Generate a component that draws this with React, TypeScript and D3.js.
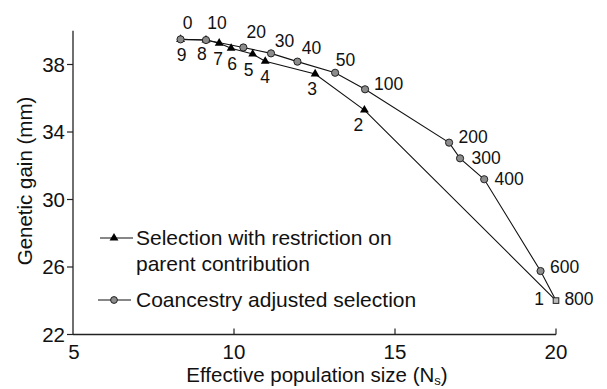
import React from 'react';
import * as d3 from 'd3';

// Coancestry adjusted selection (circles), labelled by penalty value
const coancestryLabels = ['0', '10', '20', '30', '40', '50', '100', '200', '300', '400', '600', '800'];
const coancestryNs = [8.34, 9.13, 10.29, 11.15, 11.97, 13.14, 14.07, 16.68, 17.02, 17.77, 19.52, 20.0];
const coancestryGain = [39.49, 39.45, 39.01, 38.66, 38.17, 37.51, 36.53, 33.37, 32.44, 31.2, 25.76, 24.01];

// Selection with restriction on parent contribution (triangles)
const restrictLabels = ['9', '8', '7', '6', '5', '4', '3', '2', '1'];
const restrictNs = [8.34, 9.13, 9.54, 9.91, 10.58, 10.97, 12.52, 14.05, 20.0];
const restrictGain = [39.49, 39.45, 39.26, 38.96, 38.62, 38.19, 37.44, 35.3, 24.01];

const xTicks = [5, 10, 15, 20];
const yTicks = [22, 26, 30, 34, 38];

// label placement offsets (pixels, from point to label centre)
const coancestryLabelOffsets: [number, number][] = [
  [7, -17], [11, -17], [13, -16], [13.5, -13], [14, -14], [10.5, -13],
  [23.5, -6], [24, -6], [26, -1], [25, -1], [24, -4], [23, -2],
];
const restrictLabelOffsets: [number, number][] = [
  [1, 15], [-4, 14], [-1, 15], [1, 15], [-4, 16], [0, 15], [-3, 15], [-6, 14.5], [-17, -2],
];

const W = 607;
const H = 389;
const FONT = 'Liberation Sans, Arial, Helvetica, sans-serif';

export default function App() {
  const x = d3.scaleLinear().domain([5, 20]).range([73, 556]);
  const y = d3.scaleLinear().domain([22, 40]).range([334.5, 30.75]);

  const cPts = coancestryNs.map((v, i) => [x(v), y(coancestryGain[i])] as [number, number]);
  const rPts = restrictNs.map((v, i) => [x(v), y(restrictGain[i])] as [number, number]);
  const line = d3.line();
  const tri = d3.symbol().type(d3.symbolTriangle).size(34)();

  const lastIdx = coancestryLabels.length - 1;

  return (
    <svg width={W} height={H} style={{ position: 'absolute', left: 0, top: 0, background: '#fff' }} fontFamily={FONT}>
      {/* axes */}
      <line x1={x(5)} x2={x(20)} y1={y(22)} y2={y(22)} stroke="#222" strokeWidth={1.3} />
      <line x1={x(5)} x2={x(5)} y1={y(22)} y2={y(40)} stroke="#222" strokeWidth={1.3} />
      {xTicks.map((t) => (
        <g key={'xt' + t}>
          {t !== 5 && <line x1={x(t)} x2={x(t)} y1={y(22)} y2={y(22) - 6} stroke="#222" strokeWidth={1.2} />}
          <text x={x(t) + (t === 5 ? 1 : 0)} y={359} textAnchor="middle" fontSize={20.5} fill="#111">{t}</text>
        </g>
      ))}
      {yTicks.map((t) => (
        <g key={'yt' + t}>
          <line x1={x(5) - 6} x2={x(5)} y1={y(t)} y2={y(t)} stroke="#222" strokeWidth={1.2} />
          <text x={65} y={y(t)} dy="0.36em" textAnchor="end" fontSize={20.5} fill="#111">{t}</text>
        </g>
      ))}
      <text x={317} y={382} textAnchor="middle" fontSize={20.5} fill="#111">
        Effective population size (N<tspan fontSize={13} dy={3}>s</tspan><tspan dy={-3}>)</tspan>
      </text>
      <text transform={`translate(32,181) rotate(-90)`} textAnchor="middle" fontSize={20.5} fill="#111">
        Genetic gain (mm)
      </text>

      {/* series lines */}
      <path d={line(rPts) || ''} fill="none" stroke="#111" strokeWidth={1.1} />
      <path d={line(cPts) || ''} fill="none" stroke="#111" strokeWidth={1.1} />

      {/* triangle markers */}
      {rPts.slice(0, rPts.length - 1).map((p, i) => (
        <path key={'tr' + i} d={tri || ''} transform={`translate(${p[0]},${p[1]})`} fill="#000" />
      ))}
      {/* circle markers */}
      {cPts.slice(0, lastIdx).map((p, i) => (
        <circle key={'c' + i} cx={p[0]} cy={p[1]} r={3.6} fill="#8c8c8c" stroke="#222" strokeWidth={1} />
      ))}
      {/* shared end point */}
      <rect x={cPts[lastIdx][0] - 2.8} y={cPts[lastIdx][1] - 2.8} width={5.6} height={5.6} fill="#bbb" stroke="#222" strokeWidth={1} />

      {/* point labels */}
      {cPts.map((p, i) => (
        <text key={'cl' + i} x={p[0] + coancestryLabelOffsets[i][0]} y={p[1] + coancestryLabelOffsets[i][1]} dy="0.36em" textAnchor="middle" fontSize={17.5} fill="#111">
          {coancestryLabels[i]}
        </text>
      ))}
      {rPts.map((p, i) => (
        <text key={'rl' + i} x={p[0] + restrictLabelOffsets[i][0]} y={p[1] + restrictLabelOffsets[i][1]} dy="0.36em" textAnchor="middle" fontSize={17.5} fill="#111">
          {restrictLabels[i]}
        </text>
      ))}

      {/* legend */}
      <line x1={100} x2={133} y1={238} y2={238} stroke="#111" strokeWidth={1.1} />
      <path d={tri || ''} transform="translate(114,238)" fill="#000" />
      <text x={136} y={245} fontSize={21} fill="#111">Selection with restriction on</text>
      <text x={136} y={271} fontSize={21} fill="#111">parent contribution</text>
      <line x1={98} x2={131} y1={300} y2={300} stroke="#111" strokeWidth={1.1} />
      <circle cx={114} cy={300} r={3.4} fill="#8c8c8c" stroke="#222" strokeWidth={1} />
      <text x={136} y={307} fontSize={21} fill="#111">Coancestry adjusted selection</text>
    </svg>
  );
}
